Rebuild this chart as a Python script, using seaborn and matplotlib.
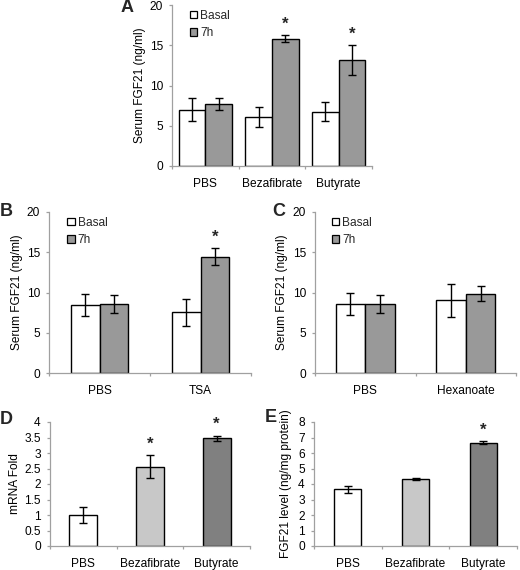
import matplotlib
matplotlib.use("Agg")
import matplotlib.pyplot as plt
import seaborn as sns
import pandas as pd
from matplotlib.patches import Patch
from matplotlib.container import BarContainer

# ---- data ----
a_groups = ["PBS", "Bezafibrate", "Butyrate"]
a_basal = [7.0, 6.1, 6.75]
a_basal_err = [1.45, 1.25, 1.15]
a_7h = [7.7, 15.8, 13.2]
a_7h_err = [0.75, 0.45, 1.85]
a_star = [False, True, True]

b_groups = ["PBS", "TSA"]
b_basal = [8.45, 7.55]
b_basal_err = [1.35, 1.7]
b_7h = [8.55, 14.45]
b_7h_err = [1.1, 1.05]
b_star = [False, True]

c_groups = ["PBS", "Hexanoate"]
c_basal = [8.55, 9.05]
c_basal_err = [1.35, 2.05]
c_7h = [8.6, 9.85]
c_7h_err = [1.1, 0.9]
c_star = [False, False]

d_groups = ["PBS", "Bezafibrate", "Butyrate"]
d_vals = [1.0, 2.56, 3.47]
d_err = [0.26, 0.37, 0.09]
d_star = [False, True, True]

e_groups = ["PBS", "Bezafibrate", "Butyrate"]
e_vals = [3.65, 4.32, 6.67]
e_err = [0.23, 0.04, 0.08]
e_star = [False, False, True]

series_names = ["Basal", "7h"]
pair_colors = ["#ffffff", "#999999"]
triple_colors = ["#ffffff", "#c8c8c8", "#808080"]

sns.set_theme(style="white")
plt.rcParams["font.family"] = ["Liberation Sans", "DejaVu Sans"]

FS = 8.6

fig = plt.figure(figsize=(5.2, 5.7), dpi=100)
W, H = 520.0, 570.0

def mk_ax(x0, y0, x1, y1):
    return fig.add_axes([x0 / W, 1 - y1 / H, (x1 - x0) / W, (y1 - y0) / H])

axA = mk_ax(172, 5, 372, 166)
axB = mk_ax(49, 212, 251, 373)
axC = mk_ax(315, 212, 516, 373)
axD = mk_ax(50, 422, 250, 546)
axE = mk_ax(314, 422, 517, 546)

SP = "#a0a0a0"

def style(ax, ymax, step, ylabel, n, lab_x):
    ax.set_ylim(0, ymax)
    ax.set_xlim(-0.5, n - 0.5)
    ticks = [i * step for i in range(int(round(ymax / step)) + 1)]
    ax.set_yticks(ticks)
    ax.set_yticklabels([f"{t:g}" for t in ticks])
    sns.despine(ax=ax)
    for s in ["left", "bottom"]:
        ax.spines[s].set_color(SP)
        ax.spines[s].set_linewidth(0.9)
    ax.tick_params(axis="y", which="major", left=True, length=2.3, width=0.9, color=SP,
                   labelsize=FS, pad=4.3, labelcolor="black")
    ax.tick_params(axis="x", which="major", bottom=False, length=0, labelsize=FS, pad=8.5,
                   labelcolor="black")
    ax.set_xticks([i - 0.5 for i in range(n + 1)], minor=True)
    ax.tick_params(axis="x", which="minor", bottom=True, length=2.3, width=0.9, color=SP)
    ax.set_xlabel("")
    ax.set_ylabel(ylabel, fontsize=FS, color="black")
    ax.yaxis.set_label_coords(lab_x, 0.5)

def star(ax, x, top, off):
    ax.text(x, top + off, "*", ha="center", va="bottom", fontsize=12, fontweight="bold")

def bar_containers(ax):
    return [c for c in ax.containers if isinstance(c, BarContainer)]

def grouped(ax, groups, basal, berr, h7, herr, stars, width, ymax, leg_x):
    df = pd.DataFrame({
        "group": groups * 2,
        "series": [series_names[0]] * len(groups) + [series_names[1]] * len(groups),
        "value": list(basal) + list(h7),
    })
    sns.barplot(data=df, x="group", y="value", hue="series", hue_order=series_names,
                palette=pair_colors, edgecolor="black", linewidth=1.0, width=width,
                errorbar=None, legend=False, ax=ax, zorder=2)
    errs = [berr, herr]
    vals = [basal, h7]
    conts = bar_containers(ax)
    for k, cont in enumerate(conts[:2]):
        for i, p in enumerate(list(cont.patches)):
            xc = p.get_x() + p.get_width() / 2
            ax.errorbar(xc, vals[k][i], yerr=errs[k][i], color="black", lw=1.0,
                        capsize=2.6, capthick=1.0, zorder=3)
            if k == 1 and stars[i]:
                star(ax, xc, vals[k][i] + errs[k][i], ymax * 0.02)
    handles = [Patch(facecolor=c, edgecolor="black", linewidth=0.9) for c in pair_colors]
    ax.legend(handles, series_names, loc="upper left", frameon=False, fontsize=FS,
              handlelength=0.62, handleheight=0.62, handletextpad=0.25,
              labelspacing=0.45, borderaxespad=0.0, bbox_to_anchor=(leg_x, 1.0))

def single(ax, groups, vals, err, stars, width, ymax):
    df = pd.DataFrame({"group": groups, "value": vals})
    sns.barplot(data=df, x="group", y="value", hue="group", palette=triple_colors,
                edgecolor="black", linewidth=1.0, width=width, errorbar=None,
                legend=False, ax=ax, zorder=2)
    patches = [p for c in bar_containers(ax) for p in c.patches]
    for p in patches:
        xc = p.get_x() + p.get_width() / 2
        i = int(round(xc))
        ax.errorbar(xc, vals[i], yerr=err[i], color="black", lw=1.0,
                    capsize=2.6, capthick=1.0, zorder=3)
        if stars[i]:
            star(ax, xc, vals[i] + err[i], ymax * 0.03)

grouped(axA, a_groups, a_basal, a_basal_err, a_7h, a_7h_err, a_star, 0.8, 20, 0.066)
style(axA, 20, 5, "Serum FGF21 (ng/ml)", 3, -0.13)
grouped(axB, b_groups, b_basal, b_basal_err, b_7h, b_7h_err, b_star, 0.57, 20, 0.066)
style(axB, 20, 5, "Serum FGF21 (ng/ml)", 2, -0.129)
grouped(axC, c_groups, c_basal, c_basal_err, c_7h, c_7h_err, c_star, 0.59, 20, 0.061)
style(axC, 20, 5, "Serum FGF21 (ng/ml)", 2, -0.134)
single(axD, d_groups, d_vals, d_err, d_star, 0.42, 4)
style(axD, 4, 0.5, "mRNA Fold", 3, -0.145)
single(axE, e_groups, e_vals, e_err, e_star, 0.4, 8)
style(axE, 8, 1, "FGF21 level (ng/mg protein)", 3, -0.11)

for lab, x, y in [("A", 121, 7), ("B", 0, 212), ("C", 272, 212), ("D", 0, 419), ("E", 265, 418)]:
    fig.text(x / W, 1 - y / H, lab, fontsize=13, fontweight="bold", ha="left", va="center")

fig.savefig("out.png", dpi=100)
